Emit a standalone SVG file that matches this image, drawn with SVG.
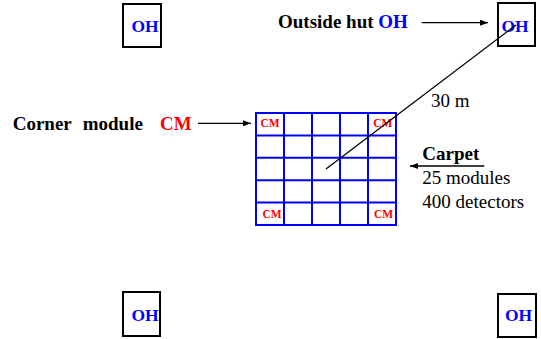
<svg xmlns="http://www.w3.org/2000/svg" width="541" height="339" viewBox="0 0 541 339">
<style>
.hut{fill:#fff;stroke:#000;stroke-width:2}
.oh{font-family:"Liberation Serif",serif;font-weight:bold;font-size:17.5px;fill:#0000ff}
.lbl{font-family:"Liberation Serif",serif;font-weight:bold;font-size:19px;fill:#000}
.txt{font-family:"Liberation Serif",serif;font-size:19px;fill:#000}
.cm{font-family:"Liberation Serif",serif;font-weight:bold;font-size:11.5px;fill:#ff0000}
.red{fill:#ff0000}
.grid{fill:none;stroke:#0000ff;stroke-width:2}
.con{stroke:#000;stroke-width:1.3;fill:none}
</style>
<defs>
<marker id="ah" markerWidth="8" markerHeight="6" refX="8" refY="3" orient="auto" markerUnits="userSpaceOnUse">
<path d="M0,0 L8,3 L0,6 Z" fill="#000"/>
</marker>
</defs>
<rect width="541" height="339" fill="#fff"/>
<g id="hut-tl"><rect class="hut" x="123" y="4" width="38" height="43"/><text class="oh" x="131.5" y="31.5">OH</text></g>
<g id="hut-tr"><rect class="hut" x="498" y="3" width="37" height="43"/><text class="oh" x="501.5" y="31.5">OH</text></g>
<g id="hut-bl"><rect class="hut" x="123" y="292" width="37" height="44"/><text class="oh" x="131.5" y="320.5">OH</text></g>
<g id="hut-br"><rect class="hut" x="498" y="294" width="38" height="43"/><text class="oh" x="505" y="320.5">OH</text></g>
<g id="carpet">
<rect class="grid" x="256" y="113" width="140" height="112"/>
<path class="grid" d="M284,113V225M312,113V225M340,113V225M368,113V225M256,135.4H396M256,157.8H396M256,180.2H396M256,202.6H396"/>
<text class="cm" x="260.5" y="126.7">CM</text>
<text class="cm" x="373.3" y="127">CM</text>
<text class="cm" x="262.5" y="218.3">CM</text>
<text class="cm" x="374" y="218.3">CM</text>
</g>
<g id="label-outside"><text class="lbl" x="278" y="27.7">Outside hut <tspan fill="#0000ff">OH</tspan></text></g>
<g id="label-corner"><text class="lbl" x="12.7" y="130">Corner</text><text class="lbl" x="82.7" y="130">module</text><text class="lbl red" x="160" y="130">CM</text></g>
<g id="label-carpet"><text class="lbl" x="422.3" y="160">Carpet</text><text class="txt" x="422.3" y="184">25 modules</text><text class="txt" x="422.3" y="208">400 detectors</text></g>
<g id="label-dist"><text class="txt" x="431" y="106.7" font-size="17px">30 m</text></g>
<g id="connectors">
<line class="con" x1="421.7" y1="22.7" x2="488" y2="22.7" marker-end="url(#ah)"/>
<line class="con" x1="198" y1="123.3" x2="251" y2="123.3" marker-end="url(#ah)"/>
<line class="con" x1="484.3" y1="166" x2="410" y2="166" marker-end="url(#ah)"/>
<line class="con" x1="326" y1="169" x2="516" y2="25"/>
</g>
</svg>
